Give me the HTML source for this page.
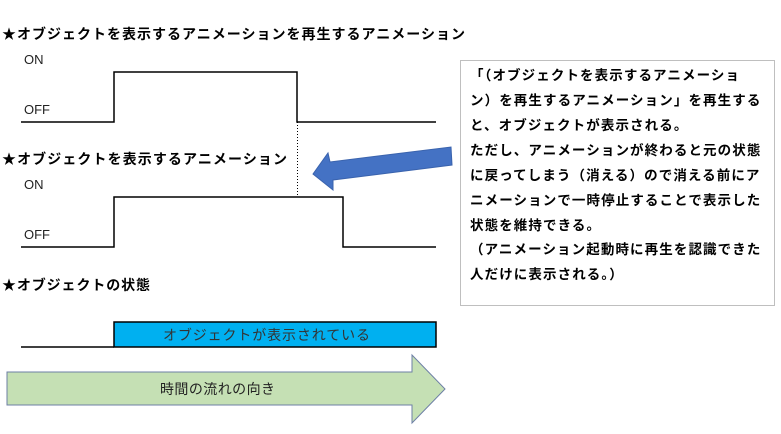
<!DOCTYPE html>
<html><head><meta charset="utf-8"><style>
body{margin:0;background:#fff;}
svg{display:block;}
text{font-family:"Liberation Sans","Noto Sans CJK JP",sans-serif;}
.t{font-size:14px;font-weight:bold;fill:#000;}
.l{font-size:13px;fill:#222;}
.b{font-size:13.5px;font-weight:bold;fill:#000;letter-spacing:1.1px;}
</style></head><body>
<svg width="781" height="434" viewBox="0 0 781 434" xmlns="http://www.w3.org/2000/svg">
<text class="t" x="2" y="39" textLength="463" lengthAdjust="spacing">★オブジェクトを表示するアニメーションを再生するアニメーション</text>
<text class="l" x="24" y="64">ON</text>
<text class="l" x="24" y="114">OFF</text>
<polyline points="21,122 114,122 114,72 297,72 297,122 436,122" fill="none" stroke="#000" stroke-width="1.5"/>
<line x1="297.5" y1="122" x2="297.5" y2="197" stroke="#000" stroke-width="1" stroke-dasharray="1,2"/>
<text class="t" x="2" y="164" textLength="285" lengthAdjust="spacing">★オブジェクトを表示するアニメーション</text>
<text class="l" x="24" y="189">ON</text>
<text class="l" x="24" y="239">OFF</text>
<polyline points="21,247 114,247 114,197 343,197 343,247 436,247" fill="none" stroke="#000" stroke-width="1.5"/>
<text class="t" x="2" y="290" textLength="148" lengthAdjust="spacing">★オブジェクトの状態</text>
<polyline points="21,347 114,347" fill="none" stroke="#000" stroke-width="1.5"/>
<rect x="114" y="322" width="322" height="25" fill="#00b0f0" stroke="#000" stroke-width="1.5"/>
<text x="163" y="340" font-size="14" textLength="207" lengthAdjust="spacing" fill="#333">オブジェクトが表示されている</text>
<polygon points="7,372 412,372 412,355 445,389 412,423 412,405 7,405" fill="#c5e0b4" stroke="#6d7fa5" stroke-width="1"/>
<text x="160" y="394" font-size="14" textLength="115" lengthAdjust="spacing" fill="#222">時間の流れの向き</text>
<polygon points="451,147 452,165 333,180 333,190 313,174 328,153 330,162" fill="#4472c4" stroke="#3a63ad" stroke-width="1"/>
<rect x="460.5" y="60.5" width="314" height="245" fill="#fff" stroke="#bfbfbf" stroke-width="1"/>
<text class="b" x="470" y="80">「（オブジェクトを表示するアニメーショ</text>
<text class="b" x="470" y="105">ン）を再生するアニメーション」を再生する</text>
<text class="b" x="470" y="130">と、オブジェクトが表示される。</text>
<text class="b" x="470" y="155">ただし、アニメーションが終わると元の状態</text>
<text class="b" x="470" y="180">に戻ってしまう（消える）ので消える前にア</text>
<text class="b" x="470" y="205">ニメーションで一時停止することで表示した</text>
<text class="b" x="470" y="230">状態を維持できる。</text>
<text class="b" x="470" y="254">（アニメーション起動時に再生を認識できた</text>
<text class="b" x="470" y="279">人だけに表示される。）</text>
</svg>
</body></html>
